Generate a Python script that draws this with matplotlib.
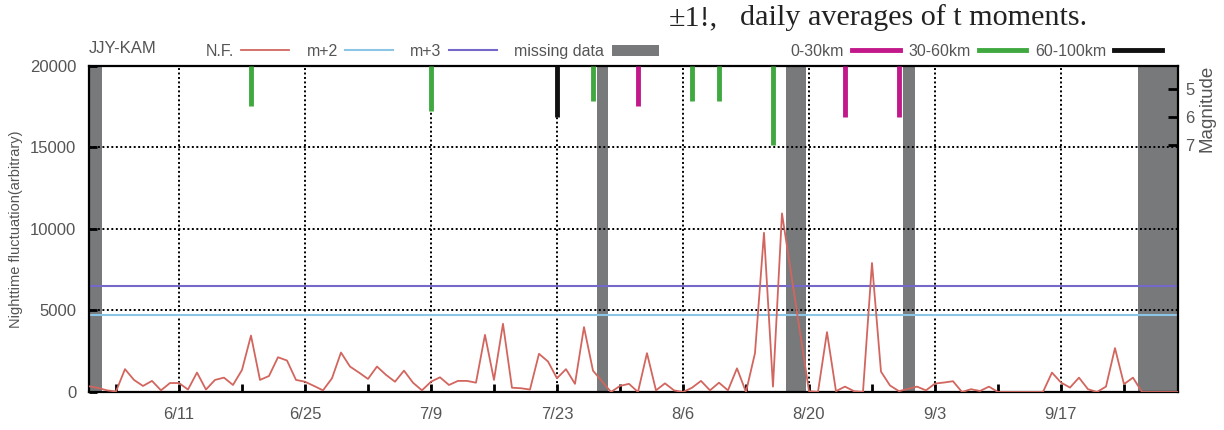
import numpy as np
import matplotlib.pyplot as plt
from matplotlib.lines import Line2D
from matplotlib.patches import Patch

plt.rcParams['font.family'] = ['Liberation Sans', 'DejaVu Sans']

# daily nighttime fluctuation, starting 6/1 (nan = missing day)
start_day = np.datetime64('2010-06-01')
nf_values = np.array([
    350, 250, 100, 30, 1400, 740, 370, 680, 100, 550,
    550, 150, 1190, 150, 740, 880, 430, 1350, 3460, 740,
    980, 2130, 1930, 740, 630, 370, 100, 840, 2420, 1560,
    1190, 800, 1560, 1050, 630, 1310, 570, 100, 630, 900,
    430, 680, 680, 570, 3500, 740, 4180, 260, 230, 150,
    2340, 1870, 840, 1400, 500, 3980, 1310, np.nan, 0, 370,
    500, 0, 2380, 100, 530, 100, 0, 260, 680, 100,
    570, 100, 1450, 0, 2380, 9760, 330, 10950, np.nan, np.nan,
    50, 0, 3670, 50, 330, 50, 0, 7910, 1250, 400,
    50, np.nan, 330, 100, 515, 580, 660, 0, 170, 60,
    330, 0, 0, 0, 0, 0, 0, 1190, 580, 270,
    880, 170, 0, 330, 2690, 480, 880, 0, 0, 0,
    0, 0], dtype=float)
nf_dates = start_day + np.arange(len(nf_values))

m2_level = 4750
m3_level = 6500

missing_from = ['2010-06-01T00', '2010-07-27T12', '2010-08-17T12', '2010-08-30T10', '2010-09-25T14']
missing_to = ['2010-06-02T10', '2010-07-28T17', '2010-08-19T17', '2010-08-31T19', '2010-09-30T00']

quake_dates = ['2010-06-19', '2010-07-09', '2010-07-23', '2010-07-27', '2010-08-01',
               '2010-08-07', '2010-08-10', '2010-08-16', '2010-08-24', '2010-08-30']
quake_mag = [5.6, 5.8, 6.0, 5.45, 5.6, 5.45, 5.45, 7.0, 6.0, 6.0]
quake_depth = ['30-60km', '30-60km', '60-100km', '30-60km', '0-30km',
               '30-60km', '30-60km', '30-60km', '0-30km', '0-30km']
depth_classes = ['0-30km', '30-60km', '60-100km']
depth_colors = {'0-30km': '#c2188a', '30-60km': '#3fa83f', '60-100km': '#111111'}

tick_dates = ['2010-06-11', '2010-06-25', '2010-07-09', '2010-07-23',
              '2010-08-06', '2010-08-20', '2010-09-03', '2010-09-17']
tick_labels = ['6/11', '6/25', '7/9', '7/23', '8/6', '8/20', '9/3', '9/17']
minor_dates = ['2010-06-04', '2010-06-18', '2010-07-02', '2010-07-16', '2010-07-30',
               '2010-08-13', '2010-08-27', '2010-09-10', '2010-09-24']
y_ticks = [0, 5000, 10000, 15000, 20000]
mag_ticks = [5, 6, 7]

red = '#d2665f'
blue = '#8cc6e6'
purple = '#7468c8'
gray = '#78797b'
txt = '#555555'

fig = plt.figure(figsize=(12.24, 4.30), dpi=100)
ax = fig.add_axes([0.0727, 0.0884, 0.8897, 0.7586])

for a, b in zip(missing_from, missing_to):
    ax.axvspan(np.datetime64(a), np.datetime64(b), color=gray, lw=0, zorder=0.2)

ok = ~np.isnan(nf_values)
ax.plot(nf_dates[ok], nf_values[ok], color=red, lw=1.3, zorder=3)
ax.axhline(m2_level, color=blue, lw=1.5, zorder=2.5)
ax.axhline(m3_level, color=purple, lw=1.5, zorder=2.5)

ax.set_xlim(np.datetime64('2010-06-01'), np.datetime64('2010-09-30'))
ax.set_ylim(0, 20000)
ax.set_xticks(np.array(tick_dates, dtype='datetime64[D]'))
ax.set_xticklabels(tick_labels)
ax.set_xticks(np.array(minor_dates, dtype='datetime64[D]'), minor=True)
ax.set_yticks(y_ticks)
ax.set_yticklabels([str(v) for v in y_ticks])
ax.set_axisbelow('line')
ax.grid(True, which='major', color='k', linestyle=(0, (1, 1.3)), lw=1.4)
ax.tick_params(which='both', direction='in', length=6, width=2, color='k',
               labelcolor=txt, labelsize=12, top=False, right=False)
ax.tick_params(axis='x', which='major', pad=11)
ax.tick_params(axis='y', pad=9)
for s in ax.spines.values():
    s.set_linewidth(1.6)
ax.set_ylabel('Nighttime fluctuation(arbitrary)', color=txt, fontsize=10.5, labelpad=5)

# magnitude axis on the right
ax2 = ax.twinx()
mag_top = 4.18
ax2.set_ylim(15.82, mag_top)
ax2.set_yticks(mag_ticks)
ax2.set_yticklabels([str(m) for m in mag_ticks])
ax2.tick_params(direction='in', length=7, width=2, color='k', labelcolor=txt, labelsize=12, pad=5)
ax2.set_xlim(ax.get_xlim())
for s in ax2.spines.values():
    s.set_visible(False)
qd = np.array(quake_dates, dtype='datetime64[D]')
ax2.vlines(qd, mag_top, quake_mag, colors=[depth_colors[d] for d in quake_depth], lw=3.5)
ax2.set_ylabel('Magnitude', color=txt, fontsize=13.5)
ax2.yaxis.set_label_coords(1.019, 0.87)

# legends above the frame
ax.text(0.0, 1.03, 'JJY-KAM', transform=ax.transAxes, color=txt, fontsize=12, va='bottom')
h1 = [Line2D([], [], color=red, lw=1.3), Line2D([], [], color=blue, lw=1.5),
      Line2D([], [], color=purple, lw=1.5), Patch(color=gray, lw=0)]
leg1 = ax.legend(h1, ['N.F.', 'm+2', 'm+3', 'missing data'], ncol=4, markerfirst=False,
                 loc='lower left', bbox_to_anchor=(0.104, 1.012), frameon=False, borderpad=0.2,
                 borderaxespad=0, handlelength=3.0, handletextpad=0.45, columnspacing=1.1,
                 fontsize=11.5, labelcolor=txt)
ax.add_artist(leg1)
h2 = [Line2D([], [], color=depth_colors[d], lw=3.5) for d in depth_classes]
ax.legend(h2, depth_classes, ncol=3, markerfirst=False, loc='lower left',
          bbox_to_anchor=(0.641, 1.012), frameon=False, borderpad=0.2, borderaxespad=0,
          handlelength=3.0, handletextpad=0.5, columnspacing=0.55, fontsize=11.5, labelcolor=txt)

serif = ['Liberation Serif', 'DejaVu Serif']
fig.text(0.546, 0.942, '±1!,', fontsize=21.7, family=serif, color='#222222', va='baseline')
fig.text(0.6045, 0.942, 'daily averages of t moments.', fontsize=21.7, family=serif,
         color='#222222', va='baseline')

fig.savefig('out.png', dpi=100)
